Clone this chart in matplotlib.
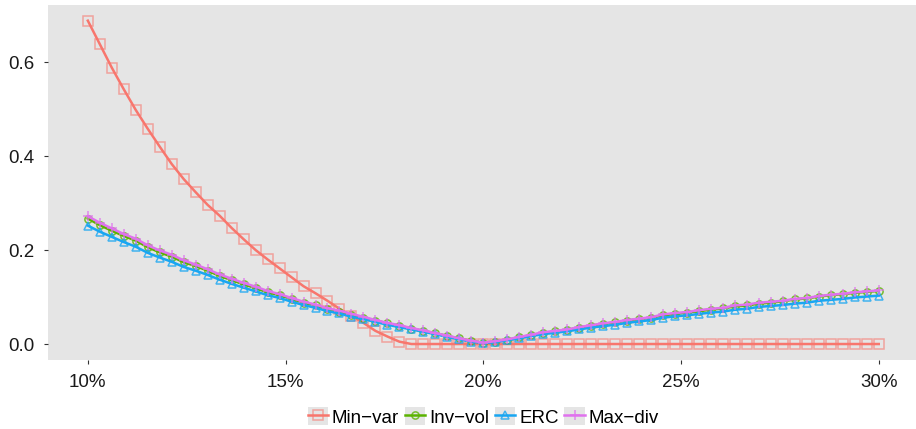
import numpy as np
import matplotlib as mpl
mpl.use("Agg")
import matplotlib.pyplot as plt
from matplotlib.patches import Patch
from matplotlib.legend_handler import HandlerTuple
from matplotlib.colors import to_rgba
from matplotlib.ticker import FuncFormatter

plt.rcParams['font.family'] = ['Liberation Sans', 'DejaVu Sans']

# target volatility grid (10% .. 30%)
vol_target = np.linspace(0.10, 0.30, 67)

min_var = [0.688, 0.638, 0.588, 0.542, 0.498, 0.458, 0.420, 0.383, 0.351, 0.323,
           0.296, 0.273, 0.247, 0.223, 0.200, 0.180, 0.161, 0.142, 0.123, 0.108,
           0.092, 0.075, 0.060, 0.045, 0.028, 0.016, 0.005, 0.0, 0.0, 0.0,
           0.0, 0.0, 0.0, 0.0, 0.0, 0.0, 0.0, 0.0, 0.0, 0.0,
           0.0, 0.0, 0.0, 0.0, 0.0, 0.0, 0.0, 0.0, 0.0, 0.0,
           0.0, 0.0, 0.0, 0.0, 0.0, 0.0, 0.0, 0.0, 0.0, 0.0,
           0.0, 0.0, 0.0, 0.0, 0.0, 0.0, 0.0]

inv_vol = [0.267, 0.253, 0.241, 0.230, 0.220, 0.206, 0.195, 0.186, 0.174, 0.166,
           0.156, 0.145, 0.136, 0.127, 0.119, 0.110, 0.104, 0.096, 0.088, 0.082,
           0.074, 0.069, 0.062, 0.056, 0.050, 0.044, 0.039, 0.033, 0.028, 0.023,
           0.017, 0.012, 0.006, 0.003, 0.005, 0.009, 0.014, 0.019, 0.023, 0.027,
           0.030, 0.035, 0.039, 0.043, 0.046, 0.050, 0.053, 0.056, 0.061, 0.064,
           0.067, 0.070, 0.073, 0.076, 0.080, 0.082, 0.086, 0.088, 0.091, 0.095,
           0.097, 0.101, 0.104, 0.106, 0.109, 0.111, 0.113]

erc = [0.252, 0.239, 0.228, 0.217, 0.207, 0.194, 0.184, 0.175, 0.164, 0.156,
       0.147, 0.137, 0.128, 0.120, 0.112, 0.104, 0.098, 0.090, 0.083, 0.077,
       0.070, 0.065, 0.058, 0.053, 0.047, 0.041, 0.036, 0.031, 0.026, 0.021,
       0.015, 0.010, 0.005, 0.002, 0.004, 0.008, 0.012, 0.017, 0.021, 0.024,
       0.027, 0.031, 0.035, 0.038, 0.041, 0.045, 0.048, 0.051, 0.056, 0.059,
       0.061, 0.064, 0.067, 0.069, 0.073, 0.075, 0.079, 0.081, 0.083, 0.086,
       0.088, 0.092, 0.094, 0.096, 0.099, 0.101, 0.103]

max_div = [0.272, 0.258, 0.246, 0.234, 0.224, 0.210, 0.199, 0.190, 0.178, 0.169,
           0.159, 0.148, 0.139, 0.130, 0.122, 0.113, 0.106, 0.098, 0.090, 0.084,
           0.076, 0.071, 0.064, 0.058, 0.051, 0.045, 0.040, 0.034, 0.029, 0.023,
           0.018, 0.012, 0.007, 0.003, 0.006, 0.010, 0.015, 0.020, 0.025, 0.028,
           0.031, 0.036, 0.040, 0.044, 0.047, 0.051, 0.054, 0.057, 0.063, 0.066,
           0.068, 0.072, 0.075, 0.077, 0.082, 0.084, 0.088, 0.090, 0.092, 0.096,
           0.098, 0.102, 0.105, 0.107, 0.110, 0.112, 0.114]

series = [("Min\u2212var", min_var), ("Inv\u2212vol", inv_vol),
          ("ERC", erc), ("Max\u2212div", max_div)]
colors = ['#F8766D', '#5BB300', '#18A6F2', '#E072EE']
markers = ['s', 'o', '^', '+']
msizes = [6.6, 5.2, 6.2, 7.0]
malpha = [0.6, 0.8, 0.8, 0.8]

fig = plt.figure(figsize=(9.16, 4.29), dpi=100)
ax = fig.add_axes([0.0527, 0.1604, 0.9498, 0.8291])
ax.set_facecolor('#E5E5E5')
for s in ax.spines.values():
    s.set_visible(False)

handles = []
for (name, vals), c, m, ms, a in zip(series, colors, markers, msizes, malpha):
    ln, = ax.plot(vol_target, vals, color=c, lw=1.8, marker=m, markersize=ms,
                  markerfacecolor='none', markeredgecolor=to_rgba(c, a),
                  markeredgewidth=1.1, label=name)
    handles.append((Patch(facecolor='#E5E5E5', edgecolor='none'), ln))

ax.set_xlim(0.09, 0.31)
ax.set_ylim(-0.0344, 0.7224)
ax.set_xticks([0.10, 0.15, 0.20, 0.25, 0.30])
ax.set_yticks([0.0, 0.2, 0.4, 0.6])
ax.xaxis.set_major_formatter(FuncFormatter(lambda v, p: '%d%%' % round(v * 100)))
ax.yaxis.set_major_formatter(FuncFormatter(lambda v, p: '%.1f' % v))
ax.tick_params(length=3, width=0.8, color='#333333', labelsize=13.5,
               labelcolor='#1a1a1a', pad=7)

ax.legend(handles, [s[0] for s in series],
          handler_map={tuple: HandlerTuple(ndivide=1, pad=0)},
          loc='center', bbox_to_anchor=(0.5, -0.16), ncol=4, frameon=False,
          fontsize=13.5, handlelength=1.1, handleheight=1.1, handletextpad=0.2,
          columnspacing=0.3, borderaxespad=0)

fig.savefig('out.png', dpi=100)
